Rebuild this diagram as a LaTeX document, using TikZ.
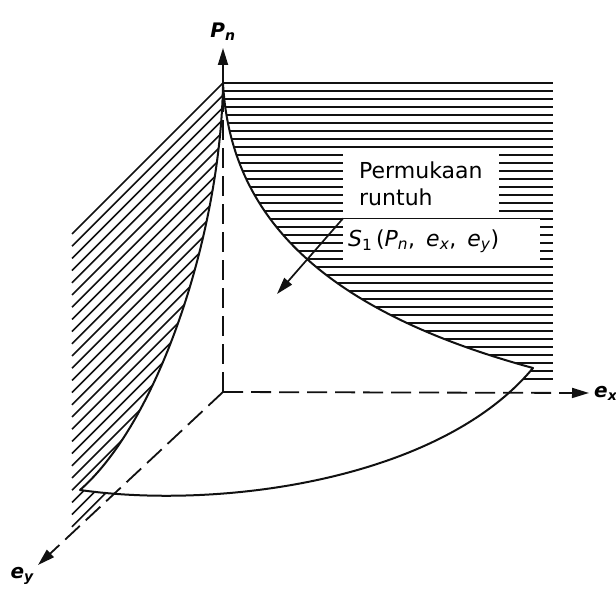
\documentclass[tikz,border=0pt]{standalone}
\usepackage{fontspec}
\setmainfont{DejaVu Sans}
\usepackage{tikz}
\usetikzlibrary{arrows.meta,positioning}
\definecolor{ink}{RGB}{17,17,17}
\tikzset{
  axis/.style={ink,line width=1.8pt,dash pattern=on 20pt off 8pt,
    -{Triangle[length=17pt,width=10pt]}},
  pointer/.style={ink,line width=1.7pt,-{Triangle[length=17pt,width=10pt]}},
  hatch/.style={ink,line width=1.6pt},
  surf/.style={ink,line width=2pt,fill=white,line join=round},
  axlabel/.style={inner sep=0pt,font=\fontsize{20}{23}\selectfont\bfseries\itshape},
  note/.style={fill=white,inner ysep=12pt,align=left,
    font=\fontsize{22}{27}\selectfont},
}

\begin{document}
\begin{tikzpicture}[x=1pt,y=-1pt]
  \useasboundingbox (0,0) rectangle (616,593);
  \coordinate (O) at (223,392);
  \coordinate (apex) at (223,83);
  \coordinate (ybot) at (80,490);
  \coordinate (xend) at (533,368);
  \coordinate (ptop) at (223,48);
  \coordinate (xtip) at (589,393);
  \coordinate (ytip) at (38,565);
  \coordinate (hit) at (277,294);

  \foreach \k in {0,...,24}
    \draw[hatch] (72,234+12.2*\k) -- ++(151,-151);
  \foreach \y in {83,91,...,379}
    \draw[hatch] (223,\y) -- (553,\y);

  \draw[surf] (apex) .. controls (221,230) and (160,420) .. (ybot)
    .. controls (220,510) and (440,480) .. (xend)
    .. controls (320,310) and (230,215) .. cycle;

  \draw[axis] (O) -- (ptop);
  \draw[axis] (O) -- (xtip);
  \draw[axis] (O) -- (ytip);

  \node[axlabel,above=7pt of ptop] (pn) {P\textsubscript{n}};
  \node[axlabel,right=5pt of xtip] (ex) {e\textsubscript{x}};
  \node[axlabel,below left=2pt and 4pt of ytip] (ey) {e\textsubscript{y}};

  \node[note,anchor=north west,inner xsep=16pt,text width=124pt] (lbl) at (343,150)
    {Permukaan\\runtuh};
  \node[note,anchor=north west,inner xsep=5pt,inner ysep=0pt,text width=187pt,
        minimum height=45pt] (fn) at (lbl.south west)
    {\textit{S}\textsubscript{1}\,(\textit{P\textsubscript{n}},\, \textit{e\textsubscript{x}},\,
     \textit{e\textsubscript{y}})};
  \draw[pointer] (fn.north west) -- (hit);
\end{tikzpicture}
\end{document}
